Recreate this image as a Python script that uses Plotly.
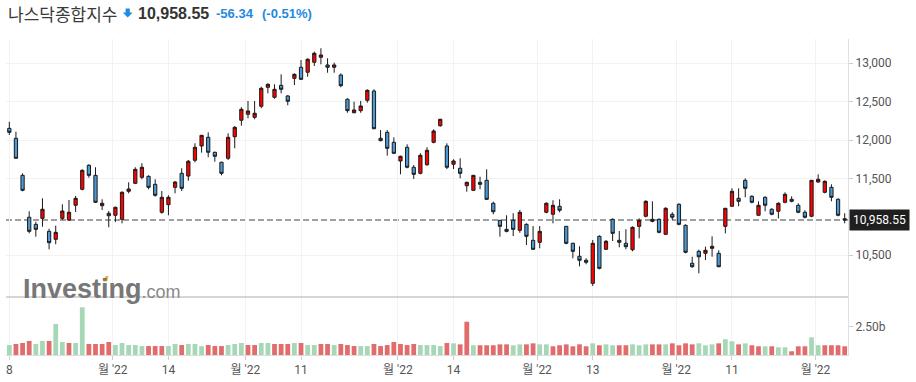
import plotly.graph_objects as go

# ---------------- data ----------------
opens = [12152,12022,11540,10994,10902,10980,10811,10707,10980,10958,
         11150,11358,11671,11540,11145,11046,11020,10967,11332,11436,
         11514,11527,11423,11059,11158,11384,11566,11531,11736,11922,
         12035,11840,11710,11762,12043,12257,12335,12296,12439,12686,
         12556,12712,12573,12803,12947,12882,13012,13077,12977,12947,
         12846,12530,12355,12382,12517,12638,12022,12100,11970,11727,
         11905,11645,11566,11678,11970,12186,11922,11684,11632,11405,
         11345,11449,11475,11176,10954,10837,10954,10824,10902,10694,
         10668,11059,11033,11137,10876,10655,10486,10434,10134,10746,
         10577,10967,10694,10655,10572,10876,11007,10941,10967,10772,
         11033,11163,10889,10395,10551,10525,10590,10525,10876,11137,
         11241,11475,11267,11020,11254,11098,11072,11189,11228,11150,
         11059,11007,11453,11319,11384,11228,10975]
highs = [12238,12108,11566,11072,10936,11241,10845,10884,11163,11219,
         11271,11618,11684,11645,11228,11076,11132,11332,11449,11645,
         11697,11540,11488,11336,11280,11466,11632,11740,11957,12065,
         12100,11848,11717,12087,12182,12426,12508,12508,12694,12738,
         12725,12855,12586,12868,13042,13064,13150,13194,13064,13007,
         12868,12543,12499,12508,12660,12660,12130,12130,12035,11796,
         11944,11674,11827,11905,12139,12275,11957,11749,11762,11457,
         11544,11522,11618,11197,10958,11020,11046,11089,10915,10880,
         10880,11189,11215,11228,10880,10663,10616,10460,10698,10759,
         10698,10980,10815,10837,10876,10980,11215,11202,10980,11124,
         11059,11176,10902,10480,10572,10611,10746,10564,11115,11371,
         11371,11501,11280,11202,11267,11111,11189,11319,11267,11176,
         11085,11480,11553,11475,11423,11241,11046]
lows = [12065,11755,11332,10785,10741,10871,10577,10642,10958,10945,
        11063,11345,11509,11181,11089,10863,10932,10915,11306,11427,
        11488,11358,11262,11040,11020,11306,11336,11470,11710,11835,
        11775,11717,11540,11740,11892,12186,12283,12270,12413,12608,
        12538,12608,12452,12716,12781,12824,12964,12986,12876,12876,
        12686,12355,12348,12355,12486,12140,11985,11796,11818,11553,
        11632,11492,11553,11665,11957,12173,11622,11622,11501,11327,
        11340,11358,11219,11033,10741,10798,10750,10793,10633,10570,
        10590,11046,10915,11059,10642,10460,10355,10382,10099,10316,
        10568,10685,10603,10577,10551,10720,10994,10928,10785,10763,
        10958,10889,10525,10337,10264,10438,10480,10345,10785,11132,
        11137,11254,11176,11015,11072,11020,10980,11176,11189,11046,
        10980,10994,11444,11306,11202,11007,10915]
closes = [12100,11762,11345,10811,10837,11098,10663,10798,11075,11059,
          11241,11605,11540,11189,11176,11014,11124,11319,11362,11618,
          11645,11384,11280,11254,11254,11453,11371,11723,11905,12061,
          11840,11788,11566,12035,12165,12400,12378,12348,12673,12725,
          12660,12660,12504,12855,12790,13051,13129,13107,12947,12977,
          12707,12382,12391,12443,12647,12147,11991,11892,11827,11788,
          11645,11553,11801,11866,12117,12270,11645,11727,11566,11449,
          11540,11423,11228,11066,10876,10811,10837,11059,10746,10577,
          10811,11176,11150,11085,10655,10551,10434,10408,10655,10329,
          10681,10785,10668,10611,10863,10954,11202,10967,10798,11111,
          10994,10902,10538,10350,10480,10564,10616,10350,11111,11332,
          11202,11371,11189,11150,11150,11033,11176,11293,11202,11059,
          10994,11475,11488,11462,11254,11020,10958.55]
# volume in billions
volumes = [0.88,0.97,1.06,1.24,0.97,1.24,1.24,2.74,1.15,1.06,
           1.06,4.21,0.97,0.97,0.97,1.15,0.88,1.06,0.88,0.88,
           0.79,0.79,0.79,0.79,0.79,0.97,0.88,0.97,0.97,0.79,
           0.88,0.79,0.79,0.88,0.97,1.06,0.88,0.88,1.06,1.06,
           0.97,0.97,0.97,1.06,1.06,0.88,0.88,0.97,0.97,0.88,
           0.97,0.88,0.79,0.79,0.79,0.97,0.79,0.88,1.15,0.97,
           0.88,0.97,0.88,0.88,0.88,0.79,1.06,1.03,0.94,2.94,
           0.86,0.86,0.86,0.86,0.94,0.94,0.86,0.94,0.94,1.03,
           0.94,0.94,0.77,0.86,0.94,0.77,0.94,0.77,1.03,0.86,
           0.94,0.86,0.86,0.86,0.94,0.86,0.94,0.94,0.94,0.94,
           1.03,0.86,1.03,0.94,1.03,0.86,0.94,1.03,1.39,1.21,
           0.94,1.03,0.86,0.77,0.77,0.77,0.68,0.68,0.33,0.77,
           0.77,1.56,0.86,0.86,0.86,0.86,0.77]
# 1 = green volume bar, 0 = red volume bar
volume_up = [1,0,0,0,1,1,0,1,1,0,1,1,0,0,0,0,1,1,1,1,
             1,0,0,0,1,1,0,1,1,1,0,0,0,1,1,1,0,0,1,1,
             0,0,0,1,0,1,1,0,0,1,0,0,0,1,1,0,0,0,0,0,
             0,0,1,1,1,1,0,
             1,0,0,1,0,0,0,0,0,1,1,0,0,1,1,0,0,0,0,0,
             0,1,0,1,1,0,0,1,1,1,0,0,1,0,0,0,0,1,1,1,
             0,1,1,0,1,0,0,1,0,1,1,0,0,0,1,1,0,0,0,0]
tick_index = [0, 16, 24, 36, 44, 59, 67, 80, 88, 101, 109, 122]
tick_labels = ["8", "월 '22", "14", "월 '22", "11", "월 '22", "14", "월 '22", "13", "월 '22", "11", "월 '22"]
last_price = 10958.55
price_ticks = [10500, 11500, 12000, 12500, 13000]

# ---------------- layout helpers ----------------
W, H = 916, 382
ML, MR, MT, MB = 6, 68, 39, 27
PW, PH = W - ML - MR, H - MT - MB
def px_x(x):
    return (x - ML) / PW
def px_y(y):
    return (H - MB - y) / PH

split = px_y(297)
n = len(closes)
xs = list(range(n))
tickvals = [t if lab[0].isdigit() else t - 0.4 for t, lab in zip(tick_index, tick_labels)]

GREEN_V = "#a6d8b8"
RED_V = "#e26b6b"
BLUE = "#1f8ae0"
FONT = "Roboto, 'Noto Sans CJK KR', sans-serif"

fig = go.Figure()
fig.add_trace(go.Candlestick(
    x=xs, open=opens, high=highs, low=lows, close=closes,
    increasing=dict(fillcolor="#ff0000", line=dict(color="#1a1a1a", width=1)),
    decreasing=dict(fillcolor="#4a9ad8", line=dict(color="#1a1a1a", width=1)),
    whiskerwidth=0, showlegend=False, hoverinfo="skip", yaxis="y", xaxis="x"))
fig.add_trace(go.Bar(
    x=xs, y=volumes, marker=dict(color=[GREEN_V if u else RED_V for u in volume_up], line=dict(width=0)),
    width=0.72, showlegend=False, hoverinfo="skip", yaxis="y2", xaxis="x"))

fig.update_layout(
    width=W, height=H, margin=dict(l=ML, r=MR, t=MT, b=MB),
    paper_bgcolor="white", plot_bgcolor="white",
    font=dict(family=FONT, size=12, color="#555"),
    boxgap=0.3,
    xaxis=dict(anchor="y2", range=[-0.5, n - 0.5], tickvals=tickvals, ticktext=tick_labels,
               ticks="outside", ticklen=4, tickcolor="#cccccc", showgrid=True, gridcolor="#f2f2f2",
               gridwidth=1, showline=True, linecolor="#dddddd", zeroline=False,
               rangeslider=dict(visible=False), tickfont=dict(size=12, color="#555")),
    yaxis=dict(domain=[split, 1], side="right", range=[9956, 13315], tickvals=price_ticks,
               tickformat=",", ticks="outside", ticklen=4, tickcolor="#cccccc",
               showgrid=True, gridcolor="#f2f2f2", showline=True, linecolor="#e0e0e0",
               zeroline=False, tickfont=dict(size=12, color="#555")),
    yaxis2=dict(domain=[0, split], side="right", range=[0, 5.12], tickvals=[2.5], ticktext=["2.50b"],
                ticks="outside", ticklen=4, tickcolor="#cccccc", showgrid=False,
                showline=True, linecolor="#e0e0e0", zeroline=False,
                tickfont=dict(size=12, color="#555")),
)

shapes = [
    dict(type="line", xref="paper", yref="y", x0=0, x1=1, y0=last_price, y1=last_price,
         line=dict(color="#a0a0a0", width=2, dash="6px,3px"), layer="below"),
    dict(type="line", xref="paper", yref="paper", x0=0, x1=1, y0=split, y1=split,
         line=dict(color="#c8c8c8", width=1.5)),
    # down arrow icon in title
    dict(type="path", xref="paper", yref="paper", fillcolor=BLUE, line=dict(width=0),
         path=(f"M {px_x(125.6)} {px_y(8.5)} L {px_x(129.8)} {px_y(8.5)} L {px_x(129.8)} {px_y(12.6)} "
               f"L {px_x(132.6)} {px_y(12.6)} L {px_x(127.7)} {px_y(17.6)} L {px_x(122.8)} {px_y(12.6)} "
               f"L {px_x(125.6)} {px_y(12.6)} Z")),
    # orange accent of watermark
    dict(type="path", xref="paper", yref="paper", fillcolor="#f5b041", line=dict(width=0),
         path=(f"M {px_x(103)} {px_y(281.5)} L {px_x(105.5)} {px_y(276)} L {px_x(108.5)} {px_y(276)} "
               f"L {px_x(107)} {px_y(281.5)} Z")),
]
fig.update_layout(shapes=shapes)

ty = px_y(13)
annotations = [
    dict(xref="paper", yref="paper", x=px_x(6), y=ty, xanchor="left", yanchor="middle", showarrow=False,
         text="나스닥종합지수", font=dict(family="'Noto Sans CJK KR'", size=17, color="#3a3a3a")),
    dict(xref="paper", yref="paper", x=px_x(136), y=ty, xanchor="left", yanchor="middle", showarrow=False,
         text="<b>10,958.55</b>", font=dict(family="'Liberation Sans', Arial", size=16, color="#333")),
    dict(xref="paper", yref="paper", x=px_x(214), y=ty, xanchor="left", yanchor="middle", showarrow=False,
         text="<b>-56.34</b>", font=dict(family="'Liberation Sans', Arial", size=13, color=BLUE)),
    dict(xref="paper", yref="paper", x=px_x(260), y=ty, xanchor="left", yanchor="middle", showarrow=False,
         text="<b>(-0.51%)</b>", font=dict(family="'Liberation Sans', Arial", size=13, color=BLUE)),
    dict(xref="paper", yref="y", x=1, y=last_price, xanchor="left", yanchor="middle", showarrow=False,
         text="10,958.55", bgcolor="#1f1f1f", borderpad=3, xshift=1,
         font=dict(family=FONT, size=12, color="white")),
    dict(xref="paper", yref="paper", x=px_x(21), y=px_y(288.5), xanchor="left", yanchor="middle",
         showarrow=False,
         text="<b>Investing</b><span style='font-size:18px;color:#8a8a8a'>.com</span>",
         font=dict(family="'Liberation Sans', Arial", size=27, color="#777777")),
]
fig.update_layout(annotations=annotations)

fig.write_html("out.html", config={"displayModeBar": False},
               post_script="document.body.style.margin='0';document.body.style.overflow='hidden';")
